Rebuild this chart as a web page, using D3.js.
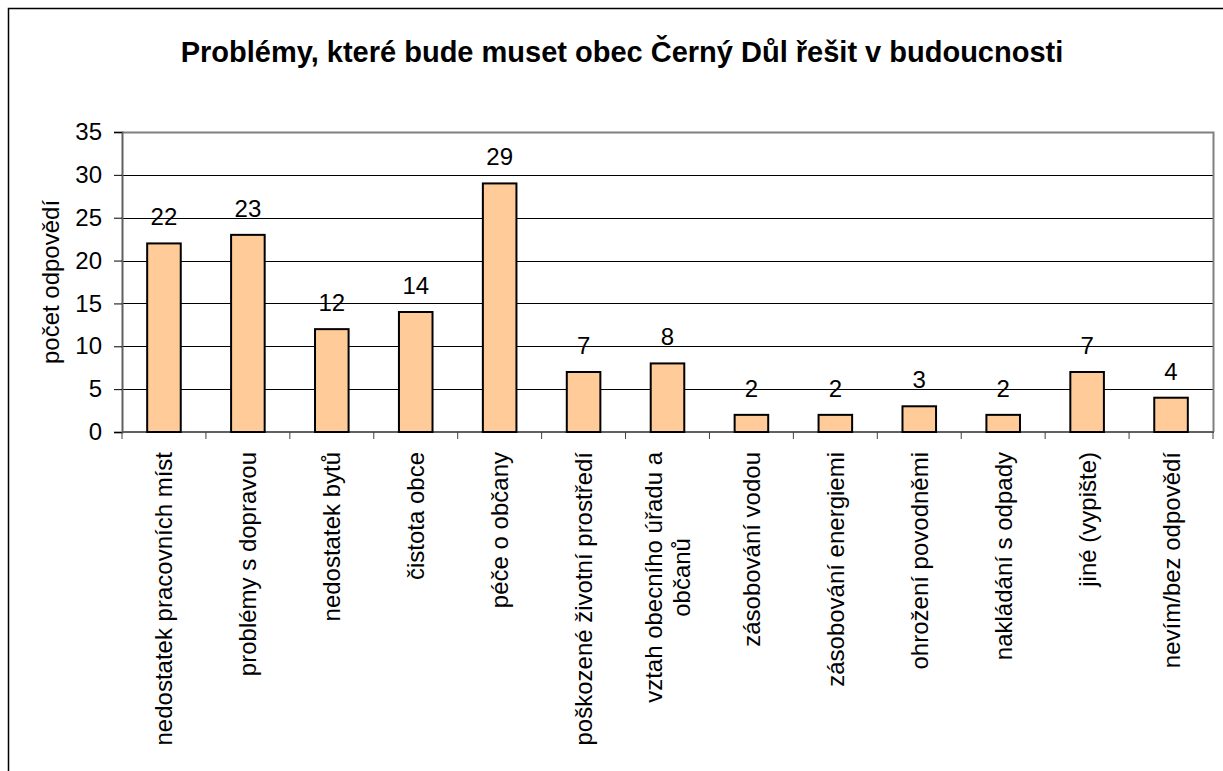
<!DOCTYPE html>
<html>
<head>
<meta charset="utf-8">
<script src="https://cdn.jsdelivr.net/npm/d3@7"></script>
<style>
  body { margin: 0; background: #fff; }
  svg { font-family: Arial, "Liberation Sans", sans-serif; }
</style>
</head>
<body>
<svg id="chart" width="1223" height="771"></svg>
<script>
// data
var categories = [
  "nedostatek pracovních míst",
  "problémy s dopravou",
  "nedostatek bytů",
  "čistota obce",
  "péče o občany",
  "poškozené životní prostředí",
  "vztah obecního úřadu a|občanů",
  "zásobování vodou",
  "zásobování energiemi",
  "ohrožení povodněmi",
  "nakládání s odpady",
  "jiné (vypište)",
  "nevím/bez odpovědí"
];
var values = [22, 23, 12, 14, 29, 7, 8, 2, 2, 3, 2, 7, 4];
var yTicks = [0, 5, 10, 15, 20, 25, 30, 35];
var title = "Problémy, které bude muset obec Černý Důl řešit v budoucnosti";
var yTitle = "počet odpovědí";

var svg = d3.select("#chart");

// outer frame
svg.append("rect")
  .attr("x", 8.5).attr("y", 8.5)
  .attr("width", 1300).attr("height", 900)
  .attr("fill", "none").attr("stroke", "#000").attr("stroke-width", 1.5);

var pLeft = 122, pTop = 132, pRight = 1213, pBottom = 432;

var x = d3.scaleBand()
  .domain(d3.range(categories.length))
  .range([pLeft, pRight])
  .paddingInner(0.6).paddingOuter(0.3);

var y = d3.scaleLinear()
  .domain([0, 35])
  .range([pBottom, pTop]);

// title
svg.append("text")
  .attr("x", 622).attr("y", 62)
  .attr("text-anchor", "middle")
  .attr("font-size", 29).attr("font-weight", "bold")
  .text(title);

// gridlines
svg.append("g")
  .selectAll("line")
  .data(yTicks.filter(function (d) { return d > 0 && d < 35; }))
  .join("line")
  .attr("x1", pLeft).attr("x2", pRight)
  .attr("y1", function (d) { return Math.round(y(d)) + 0.5; })
  .attr("y2", function (d) { return Math.round(y(d)) + 0.5; })
  .attr("stroke", "#000").attr("stroke-width", 1);

// plot border (top/right gray)
svg.append("path")
  .attr("d", "M" + pLeft + "," + (pTop + 0.5) + "H" + (pRight + 0.5) + "V" + pBottom)
  .attr("fill", "none").attr("stroke", "#808080").attr("stroke-width", 2);

// y axis
var yAxis = svg.append("g")
  .attr("transform", "translate(" + pLeft + ",0)")
  .call(d3.axisLeft(y).tickValues(yTicks).tickSize(8).tickPadding(12));
yAxis.select(".domain").attr("stroke", "#606060").attr("stroke-width", 2);
yAxis.selectAll(".tick line").attr("stroke", "#000");
yAxis.selectAll(".tick text").attr("font-size", 24).attr("fill", "#000")
  .attr("font-family", "Arial, 'Liberation Sans', sans-serif");

// x axis with ticks on category boundaries
var boundaries = d3.range(categories.length + 1);
var xb = d3.scaleLinear().domain([0, categories.length]).range([pLeft, pRight]);
svg.append("line")
  .attr("x1", pLeft).attr("x2", pRight + 1)
  .attr("y1", pBottom).attr("y2", pBottom)
  .attr("stroke", "#606060").attr("stroke-width", 2);
svg.append("g")
  .selectAll("line")
  .data(boundaries)
  .join("line")
  .attr("x1", function (d) { return xb(d); })
  .attr("x2", function (d) { return xb(d); })
  .attr("y1", pBottom).attr("y2", pBottom + 7)
  .attr("stroke", "#404040").attr("stroke-width", 1);

// bars
svg.append("g")
  .selectAll("rect")
  .data(values)
  .join("rect")
  .attr("x", function (d, i) { return x(i); })
  .attr("y", function (d) { return y(d); })
  .attr("width", x.bandwidth())
  .attr("height", function (d) { return y(0) - y(d); })
  .attr("fill", "#FFCC99")
  .attr("stroke", "#000").attr("stroke-width", 2);

// value labels
svg.append("g")
  .selectAll("text")
  .data(values)
  .join("text")
  .attr("x", function (d, i) { return x(i) + x.bandwidth() / 2; })
  .attr("y", function (d) { return y(d) - 18; })
  .attr("text-anchor", "middle")
  .attr("font-size", 24)
  .text(function (d) { return d; });

// category labels (rotated)
var labelTop = 452;
var lineH = 28;
categories.forEach(function (c, i) {
  var lines = c.split("|");
  var cx = x(i) + x.bandwidth() / 2;
  var g = svg.append("g");
  var texts = lines.map(function (l) {
    return g.append("text")
      .attr("font-size", 24)
      .attr("text-anchor", "middle")
      .attr("dominant-baseline", "central")
      .text(l);
  });
  var maxW = d3.max(texts, function (t) { return t.node().getComputedTextLength(); });
  texts.forEach(function (t, j) {
    var lx = cx + (j - (lines.length - 1) / 2) * lineH;
    var ly = labelTop + maxW / 2;
    t.attr("transform", "translate(" + lx + "," + ly + ") rotate(-90)");
  });
});

// y axis title
svg.append("text")
  .attr("transform", "translate(50," + ((pTop + pBottom) / 2) + ") rotate(-90)")
  .attr("text-anchor", "middle")
  .attr("dominant-baseline", "central")
  .attr("font-size", 24)
  .text(yTitle);
</script>
</body>
</html>
